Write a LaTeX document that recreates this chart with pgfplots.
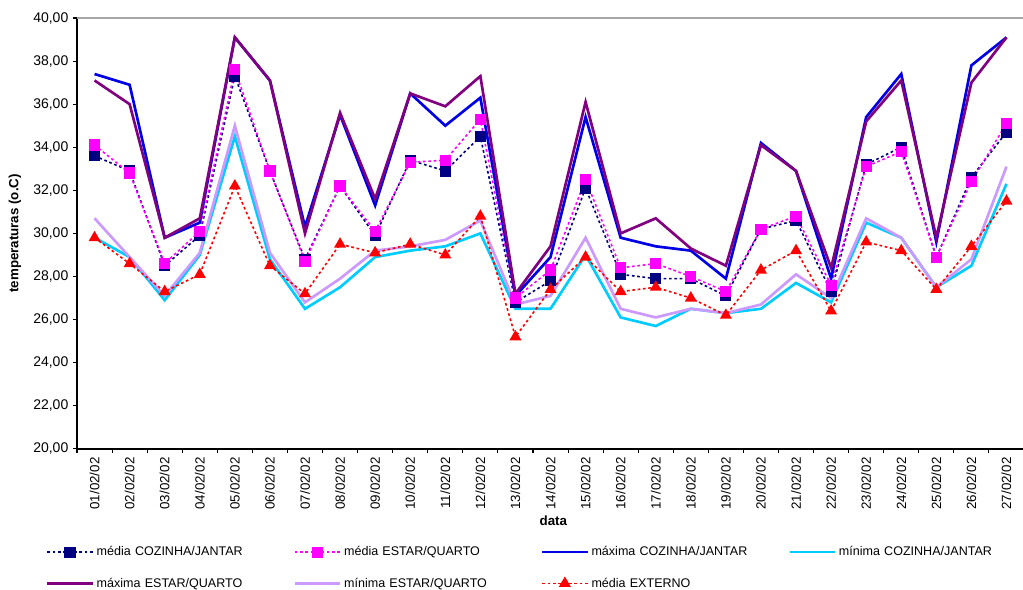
\documentclass[border=0pt]{standalone}
\usepackage{fontspec}
\setmainfont{Liberation Sans}
\usepackage{pgfplots}
\usepackage{pgfplotstable}
\pgfplotsset{compat=1.18}

\definecolor{navyc}{RGB}{0,0,128}
\definecolor{magc}{RGB}{255,0,255}
\definecolor{bluec}{RGB}{0,0,230}
\definecolor{cyanc}{RGB}{0,204,255}
\definecolor{purplec}{RGB}{128,0,128}
\definecolor{lavc}{RGB}{204,153,255}
\definecolor{redc}{RGB}{255,0,0}

% dia  medCJ  medEQ  maxCJ  minCJ  maxEQ  minEQ  medEXT
\pgfplotstableread{
d  mcj   meq   xcj   ncj   xeq   neq   ext
1  33.6  34.1  37.4  29.8  37.1  30.7  29.8
2  32.9  32.8  36.9  28.9  36.0  28.9  28.6
3  28.5  28.6  29.8  26.9  29.8  27.1  27.3
4  29.9  30.1  30.5  29.0  30.7  29.1  28.1
5  37.3  37.6  39.1  34.5  39.1  35.0  32.2
6  32.9  32.9  37.1  28.8  37.1  29.1  28.5
7  28.8  28.7  30.3  26.5  30.0  26.8  27.2
8  32.2  32.2  35.5  27.5  35.6  27.9  29.5
9  29.9  30.1  31.3  28.9  31.6  29.2  29.1
10 33.4  33.3  36.5  29.2  36.5  29.4  29.5
11 32.9  33.4  35.0  29.4  35.9  29.7  29.0
12 34.5  35.3  36.3  30.0  37.3  30.6  30.8
13 26.8  27.0  27.1  26.5  27.2  26.7  25.2
14 27.8  28.3  28.9  26.5  29.4  27.1  27.4
15 32.1  32.5  35.4  29.0  36.1  29.8  28.9
16 28.1  28.4  29.8  26.1  30.0  26.5  27.3
17 27.9  28.6  29.4  25.7  30.7  26.1  27.5
18 27.9  28.0  29.2  26.5  29.3  26.5  27.0
19 27.1  27.3  27.9  26.3  28.5  26.3  26.2
20 30.2  30.2  34.2  26.5  34.1  26.7  28.3
21 30.6  30.8  32.9  27.7  32.9  28.1  29.2
22 27.3  27.6  27.9  26.8  28.4  27.0  26.4
23 33.2  33.1  35.4  30.5  35.2  30.7  29.6
24 34.0  33.8  37.4  29.8  37.1  29.8  29.2
25 28.9  28.9  29.6  27.5  29.8  27.5  27.4
26 32.6  32.4  37.8  28.5  37.0  28.8  29.4
27 34.7  35.1  39.1  32.3  39.1  33.1  31.5
}\dados

\begin{document}
\begin{tikzpicture}
\begin{axis}[
    name=ax,
    scale only axis,
    width=710pt, height=323pt,
    xmin=0.5, xmax=27.5,
    ymin=20, ymax=40,
    ytick={20,22,...,40},
    xtick={1,...,27},
    minor xtick={0.5,1.5,...,27.5},
    major x tick style={draw=none},
    xticklabels={01/02/02,02/02/02,03/02/02,04/02/02,05/02/02,06/02/02,07/02/02,08/02/02,09/02/02,10/02/02,11/02/02,12/02/02,13/02/02,14/02/02,15/02/02,16/02/02,17/02/02,18/02/02,19/02/02,20/02/02,21/02/02,22/02/02,23/02/02,24/02/02,25/02/02,26/02/02,27/02/02},
    x tick label style={rotate=90, anchor=east, font=\fontsize{10}{12}\selectfont},
    y tick label style={font=\fontsize{10.5}{12}\selectfont},
    yticklabel style={/pgf/number format/.cd, fixed, fixed zerofill, precision=2, use comma, assume math mode=true},
    tick align=outside,
    major tick length=3pt, minor tick length=3pt,
    tick style={black, line width=0.8pt},
    axis x line*=bottom, axis y line*=left,
    axis line style={black, line width=1.2pt, -},
    xlabel={data}, ylabel={temperaturas (o.C)},
    every axis x label/.style={at={(axis description cs:0.503,-0.167)}, anchor=center, font=\bfseries\fontsize{10}{12}\selectfont},
    every axis y label/.style={at={(axis description cs:-0.0655,0.5)}, rotate=90, anchor=center, font=\bfseries\fontsize{10}{12}\selectfont},
    clip=false,
    legend columns=4,
    legend cell align=left,
    legend image code/.code={\draw[mark repeat=2, mark phase=2, #1] plot coordinates {(0pt,0pt) (17pt,0pt) (34pt,0pt)};},
    legend style={
        at={(axis description cs:-0.033,-0.220)}, anchor=north west,
        draw=none, inner sep=0pt,
        font=\fontsize{9.4}{11.5}\selectfont,
        row sep=11pt,
        nodes={text width=145.5pt},
    },
]
\draw[gray!70, line width=1.2pt] (rel axis cs:0,1) -- (rel axis cs:1,1) -- (rel axis cs:1,0);

\addplot[navyc, line width=1.2pt, dash pattern=on 2pt off 2pt, mark=square*, mark size=3.6pt, mark options={solid, fill=navyc}] table[x=d, y=mcj] {\dados};
\addlegendentry{média COZINHA/JANTAR}
\addplot[magc, line width=1.2pt, dash pattern=on 2pt off 2pt, mark=square*, mark size=3.6pt, mark options={solid, fill=magc}] table[x=d, y=meq] {\dados};
\addlegendentry{média ESTAR/QUARTO}
\addplot[bluec, line width=2pt, no marks] table[x=d, y=xcj] {\dados};
\addlegendentry{máxima COZINHA/JANTAR}
\addplot[cyanc, line width=2pt, no marks] table[x=d, y=ncj] {\dados};
\addlegendentry{mínima COZINHA/JANTAR}
\addplot[purplec, line width=2pt, no marks] table[x=d, y=xeq] {\dados};
\addlegendentry{máxima ESTAR/QUARTO}
\addplot[lavc, line width=2pt, no marks] table[x=d, y=neq] {\dados};
\addlegendentry{mínima ESTAR/QUARTO}
\addplot[redc, line width=1.2pt, dash pattern=on 2pt off 2pt, mark=triangle*, mark size=4pt, mark options={solid, fill=redc}] table[x=d, y=ext] {\dados};
\addlegendentry{média EXTERNO}
\end{axis}
\pgfresetboundingbox
\path ([xshift=-57.75pt, yshift=13.5pt]ax.north west) rectangle ([xshift=-0.75pt, yshift=-105.75pt]ax.south east);
\end{tikzpicture}
\end{document}
